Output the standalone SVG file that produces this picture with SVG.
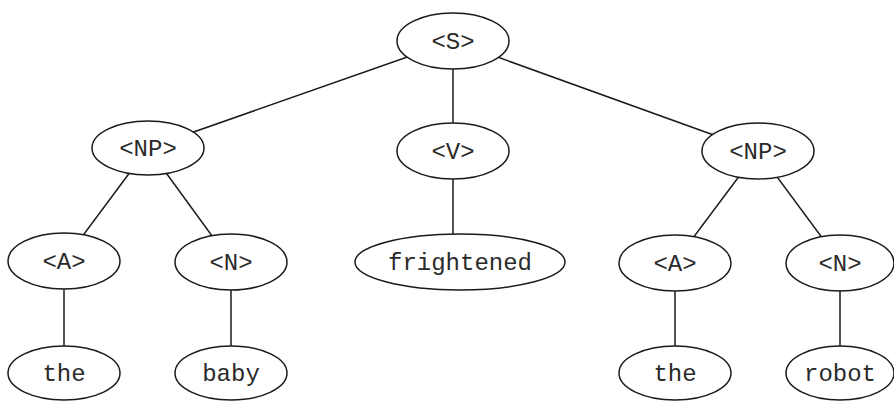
<svg xmlns="http://www.w3.org/2000/svg" width="894" height="401" viewBox="0 0 894 401">
  <style>
    .node ellipse { fill: #ffffff; stroke: #1a1a1a; stroke-width: 1.5; }
    .node text { font-family: "Liberation Mono", "DejaVu Sans Mono", monospace; font-size: 24px; fill: #2a2a2a; text-anchor: middle; dominant-baseline: central; }
    #edges line { stroke: #1a1a1a; stroke-width: 1.5; }
  </style>
  <rect width="894" height="401" fill="#ffffff"/>
  <!-- parse tree edges, drawn centre to centre beneath the node fills -->
  <g id="edges">
    <line x1="453" y1="41" x2="148" y2="148"/>
    <line x1="453" y1="41" x2="453" y2="151"/>
    <line x1="453" y1="41" x2="758" y2="151"/>
    <line x1="148" y1="148" x2="64" y2="261"/>
    <line x1="148" y1="148" x2="231" y2="262"/>
    <line x1="64" y1="261" x2="64" y2="372"/>
    <line x1="231" y1="262" x2="231" y2="372"/>
    <line x1="453" y1="151" x2="453" y2="262"/>
    <line x1="758" y1="151" x2="675" y2="262"/>
    <line x1="758" y1="151" x2="840" y2="262"/>
    <line x1="675" y1="262" x2="675" y2="372"/>
    <line x1="840" y1="262" x2="840" y2="372"/>
  </g>
  <g id="s" class="node"><ellipse cx="453" cy="41" rx="56" ry="28"/><text x="453" y="42">&lt;S&gt;</text></g>
  <g id="np1" class="node"><ellipse cx="148" cy="148" rx="56" ry="27"/><text x="148" y="149">&lt;NP&gt;</text></g>
  <g id="v" class="node"><ellipse cx="453" cy="151" rx="56" ry="28"/><text x="453" y="152">&lt;V&gt;</text></g>
  <g id="np2" class="node"><ellipse cx="758" cy="151" rx="56" ry="28"/><text x="758" y="152">&lt;NP&gt;</text></g>
  <g id="a1" class="node"><ellipse cx="64" cy="261" rx="56" ry="28"/><text x="64" y="262">&lt;A&gt;</text></g>
  <g id="n1" class="node"><ellipse cx="231" cy="262" rx="56" ry="28"/><text x="231" y="263">&lt;N&gt;</text></g>
  <g id="frightened" class="node"><ellipse cx="460" cy="262" rx="105" ry="28"/><text x="460" y="263">frightened</text></g>
  <g id="a2" class="node"><ellipse cx="675" cy="263" rx="56" ry="28"/><text x="675" y="264">&lt;A&gt;</text></g>
  <g id="n2" class="node"><ellipse cx="840" cy="263" rx="54" ry="28"/><text x="840" y="264">&lt;N&gt;</text></g>
  <g id="the1" class="node"><ellipse cx="64" cy="373" rx="56" ry="27"/><text x="64" y="374">the</text></g>
  <g id="baby" class="node"><ellipse cx="231" cy="373" rx="56" ry="27"/><text x="231" y="374">baby</text></g>
  <g id="the2" class="node"><ellipse cx="675" cy="373" rx="56" ry="27"/><text x="675" y="374">the</text></g>
  <g id="robot" class="node"><ellipse cx="840" cy="373" rx="54" ry="27"/><text x="840" y="374">robot</text></g>
</svg>
